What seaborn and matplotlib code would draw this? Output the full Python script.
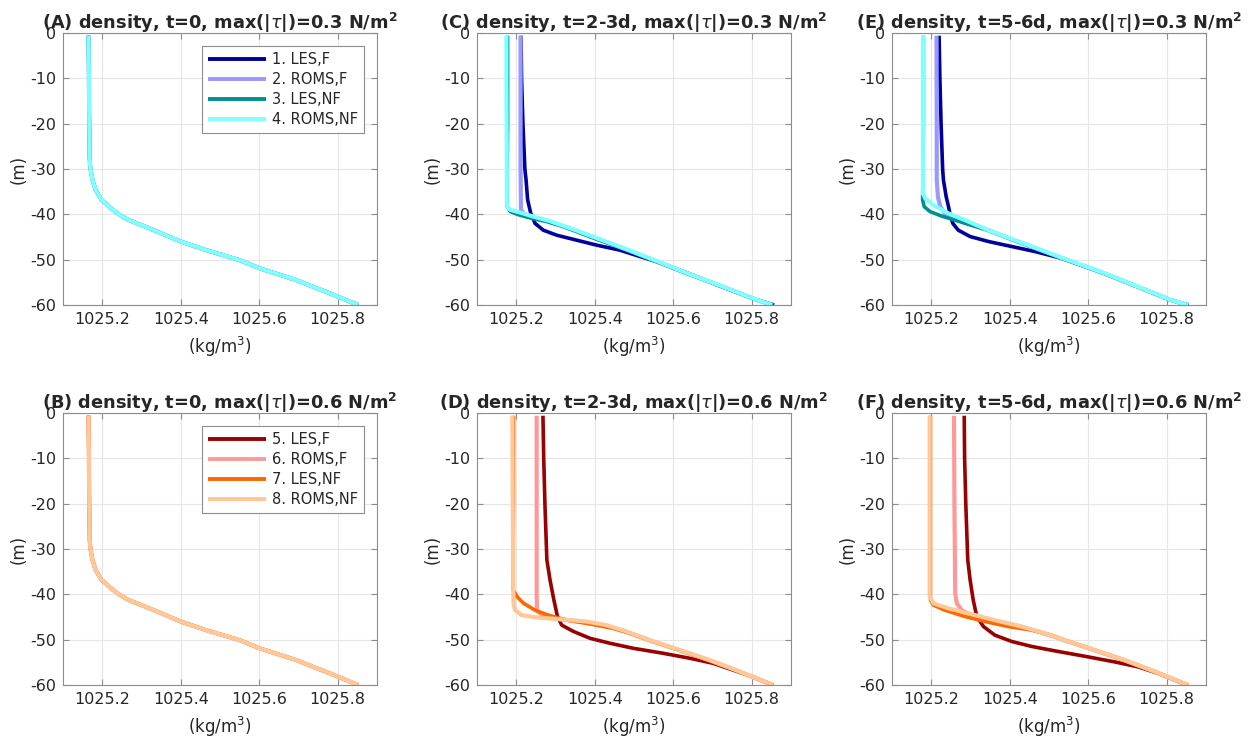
import matplotlib
matplotlib.use("Agg")
import matplotlib.pyplot as plt
import seaborn as sns
import pandas as pd

# ---------------- data ----------------
# initial profile (panels A and B, all four runs identical)
z_init = [-0.6, -10, -20, -28, -30, -32.4, -34.6, -36.8, -39, -40.1, -41.2, -43.4, -46, -47.9,
          -50.1, -51.9, -54.5, -57.4, -60]
rho_init = [1025.165, 1025.166, 1025.167, 1025.168, 1025.170, 1025.175, 1025.183, 1025.198, 1025.227,
            1025.244, 1025.266, 1025.329, 1025.4, 1025.465, 1025.55, 1025.601, 1025.694, 1025.779, 1025.852]

# panel C : t=2-3d, 0.3 N/m2
z_C1 = [-0.6, -10, -20, -30, -32.4, -36.8, -39.8, -42, -43.5, -44.6, -45.7, -46.8, -47.9, -49.3,
        -50.5, -53, -56, -58.8, -60]
rho_C1 = [1025.212, 1025.2135, 1025.217, 1025.222, 1025.225, 1025.229, 1025.237, 1025.248, 1025.269,
          1025.303, 1025.354, 1025.405, 1025.464, 1025.515, 1025.56, 1025.638, 1025.725, 1025.81, 1025.857]
z_C2 = [-0.6, -20, -30, -39, -39.8, -40.5, -41.5, -43.3, -45.5, -47.7, -50, -52.9, -55.8, -58.8, -60]
rho_C2 = [1025.211, 1025.211, 1025.211, 1025.212, 1025.219, 1025.235, 1025.28, 1025.343, 1025.41,
          1025.479, 1025.547, 1025.632, 1025.721, 1025.81, 1025.853]
z_C3 = [-0.6, -10, -20, -30, -38.3, -39.4, -40.1, -40.9, -41.6, -42.7, -45.5, -47.7, -50, -52.9,
        -55.8, -58.8, -60]
rho_C3 = [1025.178, 1025.178, 1025.178, 1025.177, 1025.177, 1025.185, 1025.206, 1025.24, 1025.278,
          1025.32, 1025.405, 1025.476, 1025.545, 1025.63, 1025.72, 1025.81, 1025.855]
z_C4 = [-0.6, -10, -30, -37.8, -38.5, -39.0, -39.6, -40.4, -41.5, -43.3, -45.5, -47.7, -50, -52.9,
        -55.8, -58.8, -60]
rho_C4 = [1025.175, 1025.175, 1025.176, 1025.176, 1025.179, 1025.185, 1025.21, 1025.24, 1025.286,
          1025.345, 1025.413, 1025.481, 1025.549, 1025.633, 1025.722, 1025.811, 1025.852]

# panel E : t=5-6d, 0.3 N/m2
z_E1 = [-0.6, -10, -20, -30, -32.4, -36.1, -38.3, -40.1, -42, -43.5, -44.9, -46, -47.1, -48.2, -49.7,
        -50.5, -53, -56, -58.9, -60]
rho_E1 = [1025.22, 1025.222, 1025.225, 1025.229, 1025.231, 1025.238, 1025.244, 1025.248, 1025.255,
          1025.269, 1025.299, 1025.346, 1025.405, 1025.464, 1025.532, 1025.558, 1025.64, 1025.726,
          1025.81, 1025.855]
z_E2 = [-0.6, -20, -32.4, -36.1, -38.3, -39.8, -40.9, -42, -43.5, -45.7, -47.9, -50.1, -53, -56,
        -58.9, -60]
rho_E2 = [1025.2135, 1025.214, 1025.214, 1025.217, 1025.223, 1025.235, 1025.257, 1025.29, 1025.344,
          1025.411, 1025.479, 1025.547, 1025.64, 1025.726, 1025.81, 1025.853]
z_E3 = [-0.6, -10, -20, -30, -36.8, -38.3, -39.4, -40.4, -41.3, -42.4, -43.5, -45.7, -47.9, -50.1,
        -53, -56, -58.9, -60]
rho_E3 = [1025.180, 1025.180, 1025.180, 1025.179, 1025.178, 1025.182, 1025.197, 1025.227, 1025.261,
          1025.303, 1025.346, 1025.41, 1025.478, 1025.546, 1025.64, 1025.726, 1025.81, 1025.855]
z_E4 = [-0.6, -10, -20, -30, -35.4, -36.5, -38, -39.8, -41.6, -43.5, -45.7, -47.9, -50.1, -53, -56,
        -58.9, -60]
rho_E4 = [1025.179, 1025.179, 1025.179, 1025.179, 1025.179, 1025.185, 1025.206, 1025.244, 1025.295,
          1025.346, 1025.413, 1025.481, 1025.549, 1025.642, 1025.727, 1025.811, 1025.854]

# panel D : t=2-3d, 0.6 N/m2
z_D5 = [-0.6, -10, -20, -32.4, -36.8, -41.3, -44.9, -46.8, -48.2, -49.7, -50.8, -51.9, -53, -54.1,
        -55.2, -56.7, -58.2, -60]
rho_D5 = [1025.268, 1025.27, 1025.273, 1025.278, 1025.286, 1025.296, 1025.305, 1025.316, 1025.346,
          1025.388, 1025.439, 1025.498, 1025.574, 1025.642, 1025.701, 1025.752, 1025.803, 1025.854]
z_D6 = [-0.6, -20, -40, -43.5, -44.6, -45.3, -46, -46.8, -48.2, -50.1, -52.3, -54.5, -56.7, -60]
rho_D6 = [1025.252, 1025.252, 1025.252, 1025.253, 1025.265, 1025.295, 1025.36, 1025.42, 1025.478,
          1025.538, 1025.615, 1025.69, 1025.758, 1025.852]
z_D7 = [-0.6, -20, -39, -40.5, -42, -43.5, -44.6, -45.7, -46.4, -47.5, -48.6, -50.1, -52.3, -54.5,
        -56.7, -60]
rho_D7 = [1025.193, 1025.193, 1025.192, 1025.202, 1025.219, 1025.248, 1025.282, 1025.329, 1025.379,
          1025.447, 1025.49, 1025.538, 1025.615, 1025.69, 1025.758, 1025.855]
z_D8 = [-0.6, -20, -42, -43.5, -44.6, -45.1, -45.5, -46, -46.8, -48.2, -50.1, -52.3, -54.5, -56.7, -60]
rho_D8 = [1025.19, 1025.191, 1025.193, 1025.197, 1025.214, 1025.252, 1025.312, 1025.379, 1025.43,
          1025.481, 1025.54, 1025.617, 1025.693, 1025.76, 1025.854]

# panel F : t=5-6d, 0.6 N/m2
z_F5 = [-0.6, -10, -20, -32.4, -36.8, -41.3, -44.9, -47.1, -49, -50.4, -51.5, -52.6, -53.8, -54.9,
        -56, -57.4, -58.9, -60]
rho_F5 = [1025.284, 1025.285, 1025.288, 1025.293, 1025.299, 1025.307, 1025.316, 1025.333, 1025.362,
          1025.405, 1025.456, 1025.523, 1025.6, 1025.667, 1025.727, 1025.777, 1025.82, 1025.853]
z_F6 = [-0.6, -20, -39.8, -42, -43.5, -44.6, -45.7, -47.1, -48.6, -50.1, -52.3, -54.5, -56.7, -60]
rho_F6 = [1025.258, 1025.259, 1025.261, 1025.265, 1025.278, 1025.303, 1025.354, 1025.428, 1025.488,
          1025.538, 1025.615, 1025.69, 1025.758, 1025.852]
z_F7 = [-0.6, -20, -41.3, -42.4, -43.5, -44.9, -46, -47.1, -47.9, -49, -50.1, -52.3, -54.5, -56.7, -60]
rho_F7 = [1025.198, 1025.198, 1025.198, 1025.206, 1025.235, 1025.286, 1025.337, 1025.396, 1025.456,
          1025.506, 1025.54, 1025.617, 1025.693, 1025.76, 1025.855]
z_F8 = [-0.6, -20, -40.5, -42, -43.1, -44.2, -45.7, -47.1, -48.6, -50.1, -52.3, -54.5, -56.7, -60]
rho_F8 = [1025.196, 1025.196, 1025.196, 1025.206, 1025.244, 1025.295, 1025.362, 1025.43, 1025.49,
          1025.54, 1025.617, 1025.693, 1025.76, 1025.854]

labels_top = ["1. LES,F", "2. ROMS,F", "3. LES,NF", "4. ROMS,NF"]
labels_bot = ["5. LES,F", "6. ROMS,F", "7. LES,NF", "8. ROMS,NF"]
colors_top = ["#00009a", "#9999ff", "#009090", "#80ffff"]
colors_bot = ["#990000", "#ff9999", "#ff6600", "#ffc896"]
widths = [2.6, 3.0, 2.6, 3.0]

titles = {
    "A": r"(A) density, t=0, max(|$\tau$|)=0.3 N/m$^{\mathbf{2}}$",
    "B": r"(B) density, t=0, max(|$\tau$|)=0.6 N/m$^{\mathbf{2}}$",
    "C": r"(C) density, t=2-3d, max(|$\tau$|)=0.3 N/m$^{\mathbf{2}}$",
    "D": r"(D) density, t=2-3d, max(|$\tau$|)=0.6 N/m$^{\mathbf{2}}$",
    "E": r"(E) density, t=5-6d, max(|$\tau$|)=0.3 N/m$^{\mathbf{2}}$",
    "F": r"(F) density, t=5-6d, max(|$\tau$|)=0.6 N/m$^{\mathbf{2}}$",
}

panels = {
    "A": [(z_init, rho_init)] * 4,
    "C": [(z_C1, rho_C1), (z_C2, rho_C2), (z_C3, rho_C3), (z_C4, rho_C4)],
    "E": [(z_E1, rho_E1), (z_E2, rho_E2), (z_E3, rho_E3), (z_E4, rho_E4)],
    "B": [(z_init, rho_init)] * 4,
    "D": [(z_D5, rho_D5), (z_D6, rho_D6), (z_D7, rho_D7), (z_D8, rho_D8)],
    "F": [(z_F5, rho_F5), (z_F6, rho_F6), (z_F7, rho_F7), (z_F8, rho_F8)],
}

x_ticks = [1025.2, 1025.4, 1025.6, 1025.8]
x_tick_labels = ["1025.2", "1025.4", "1025.6", "1025.8"]
y_ticks = [0, -10, -20, -30, -40, -50, -60]
y_tick_labels = ["0", "-10", "-20", "-30", "-40", "-50", "-60"]

# ---------------- plot ----------------
sns.set_theme(style="white")
plt.rcParams["font.family"] = ["DejaVu Sans"]
plt.rcParams["mathtext.fontset"] = "dejavusans"

fig = plt.figure(figsize=(12.51, 7.38), dpi=100)
W, H = 1251, 738
lefts = {"A": 63, "C": 477, "E": 892, "B": 63, "D": 477, "F": 892}
tops = {"A": 33, "C": 33, "E": 33, "B": 413, "D": 413, "F": 413}
aw, ah = 314, 272

for key in ["A", "C", "E", "B", "D", "F"]:
    ax = fig.add_axes([lefts[key] / W, 1 - (tops[key] + ah) / H, aw / W, ah / H])
    top_row = key in ("A", "C", "E")
    cols = colors_top if top_row else colors_bot
    labs = labels_top if top_row else labels_bot
    for i, (z, rho) in enumerate(panels[key]):
        df = pd.DataFrame({"rho": rho, "z": z})
        sns.lineplot(data=df, x="rho", y="z", sort=False, estimator=None,
                     color=cols[i], label=labs[i], ax=ax)
    for i, ln in enumerate(ax.get_lines()):
        ln.set_linewidth(widths[i % 4])
        ln.set_solid_joinstyle("round")
        ln.set_solid_capstyle("butt")
    ax.set_xlim(1025.1, 1025.9)
    ax.set_ylim(-60, 0)
    ax.set_xticks(x_ticks)
    ax.set_xticklabels(x_tick_labels)
    ax.set_yticks(y_ticks)
    ax.set_yticklabels(y_tick_labels)
    ax.grid(True, color="#e6e6e6", lw=0.8)
    ax.set_axisbelow(True)
    for s in ax.spines.values():
        s.set_color("#8c8c8c")
        s.set_linewidth(0.8)
        s.set_visible(True)
    ax.tick_params(direction="in", length=4, width=0.8, color="#8c8c8c",
                   labelsize=11.5, labelcolor="#262626", top=True, right=True,
                   bottom=True, left=True, pad=5)
    ax.set_xlabel(r"(kg/m$^3$)", fontsize=12, color="#262626", labelpad=6)
    ax.set_ylabel("(m)", fontsize=12, color="#262626", labelpad=2)
    ax.set_title(titles[key], fontsize=12.8, fontweight="bold", pad=3)
    if key in ("A", "B"):
        leg = ax.legend(loc="upper right", fontsize=10.5, handlelength=4,
                        labelspacing=0.35, borderaxespad=0.9, fancybox=False,
                        framealpha=1, edgecolor="#8c8c8c", borderpad=0.4,
                        handletextpad=0.4)
        leg.get_frame().set_linewidth(0.8)
        for t in leg.get_texts():
            t.set_color("#262626")
        for h in leg.get_lines():
            h.set_linewidth(2.8)
    else:
        ax.get_legend().remove()

fig.savefig("out.png", dpi=100)
